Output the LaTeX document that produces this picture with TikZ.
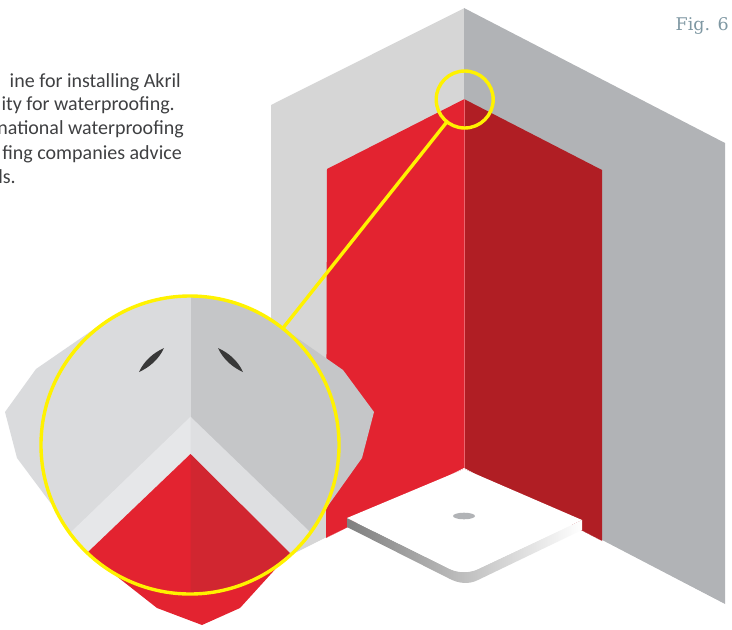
\documentclass[tikz,border=0pt]{standalone}
\usepackage{fontspec}
\setmainfont{Carlito}
\newfontfamily\figfont{DejaVu Serif}
\definecolor{wallL}{HTML}{D6D6D6}
\definecolor{wallR}{HTML}{B1B3B6}
\definecolor{redL}{HTML}{E32330}
\definecolor{redR}{HTML}{B01E24}
\definecolor{lensL}{HTML}{DADBDD}
\definecolor{lensR}{HTML}{C5C6C8}
\definecolor{bandL}{HTML}{E6E7E9}
\definecolor{bandR}{HTML}{DEDFE1}
\definecolor{lensRedR}{HTML}{D12630}
\definecolor{ringcol}{HTML}{FFF200}
\definecolor{txtcol}{HTML}{3F4042}
\definecolor{figcol}{HTML}{7F98A3}
\tikzset{
  ring/.style={circle,draw=ringcol,line width=3.4pt,inner sep=0pt,outer sep=0pt,fill=none},
  bodytext/.style={anchor=base east,inner sep=0pt,text=txtcol,font=\fontsize{20}{24}\selectfont},
  seam/.style={line width=0.6pt},
  slit/.style={fill=black!78}
}
\begin{document}
\begin{tikzpicture}[x=1pt,y=-1pt]
\useasboundingbox (0,0) rectangle (732,630);
% walls
\fill[wallL] (464.5,8) -- (271,105) -- (271,565) -- (464.5,468) -- cycle;
\fill[wallR] (464,8) -- (725,143) -- (725,604) -- (464,468) -- cycle;
\fill[redL] (464.5,99) -- (327,169) -- (326,538) -- (464.5,468) -- cycle;
\fill[redR] (464,99) -- (602,170) -- (602,541) -- (464,468) -- cycle;
\draw[seam,color=redL!70!white] (464,99) -- (464,469);
% floor
\fill[white] (464,468) -- (326,538) -- (271,566) -- (271,630) -- (725,630) -- (725,604.5) -- (602,541) -- cycle;
% tray
\fill[redL] (464,469) -- (347,518) -- (347,527) -- (326,538) -- cycle;
\fill[redR] (464,469) -- (582,520) -- (582,530) -- (602,541) -- cycle;
\shade[left color=black!50,middle color=black!18,right color=white]
  (347,518) -- (347,527) -- (450,579) .. controls (458,583) and (468,585) .. (478,580)
  -- (582,530) -- (582,520) -- (478,569) .. controls (470,573) and (458,573) .. (450,569) -- cycle;
\fill[white] (464,469) -- (347,518) -- (450,569) .. controls (458,573) and (470,573) .. (478,569) -- (582,520) -- cycle;
\fill[wallR] (464,516) ellipse [x radius=11,y radius=3.3];
% magnified outline
\fill[lensL] (110,318) -- (36,369) -- (5,412) -- (17,458) -- (70,529) -- (190,445) -- cycle;
\fill[lensR] (270,319) -- (343,370) -- (374,412) -- (362,458) -- (315,524) -- (190,445) -- cycle;
\fill[redL] (100,563) -- (115,575) -- (157,608) -- (202,625) -- (240,608) -- (290,553) -- (190,445) -- cycle;
% lens interior
\begin{scope}
\clip (190,445) circle [radius=149];
\fill[lensL] (40,290) rectangle (191,600);
\fill[lensR] (190.5,290) rectangle (345,600);
\fill[bandL] (191,417.2) -- (190.5,416.7) -- (71,532) -- (71,600) -- (191,600) -- cycle;
\fill[bandR] (190.5,416.7) -- (309,531) -- (309,600) -- (190.5,600) -- cycle;
\fill[redL] (191,454.5) -- (190.5,454) -- (88,552) -- (88,600) -- (191,600) -- cycle;
\fill[lensRedR] (190.5,454) -- (290,553) -- (290,600) -- (190.5,600) -- cycle;
\end{scope}
\fill[slit] (139,372) .. controls (144,361) and (153,353) .. (164,348) .. controls (159,359) and (150,367) .. cycle;
\fill[slit] (218,348) .. controls (229,353) and (238,361) .. (243,372) .. controls (232,367) and (223,359) .. cycle;
% rings and connector
\node[ring,minimum size=298pt] (big) at (190,445) {};
\node[ring,minimum size=57pt] (small) at (464.7,99.5) {};
\draw[ringcol,line width=3.4pt] (small) -- (big);
% text
\node[bodytext] (t1) at (181,87) {ine for installing Akril};
\node[bodytext] (t2) at (175,110.5) {ity for waterproofing.};
\node[bodytext] (t3) at (184,134.5) {national waterproofing};
\node[bodytext] (t4) at (182,159) {fing companies advice};
\node[bodytext] (t5) at (16,183) {ls.};
\node[anchor=base east,inner sep=0pt,text=figcol,font=\figfont\fontsize{17.5}{20}\selectfont] (fig) at (729,30) {Fig. 6};
\end{tikzpicture}
\end{document}
